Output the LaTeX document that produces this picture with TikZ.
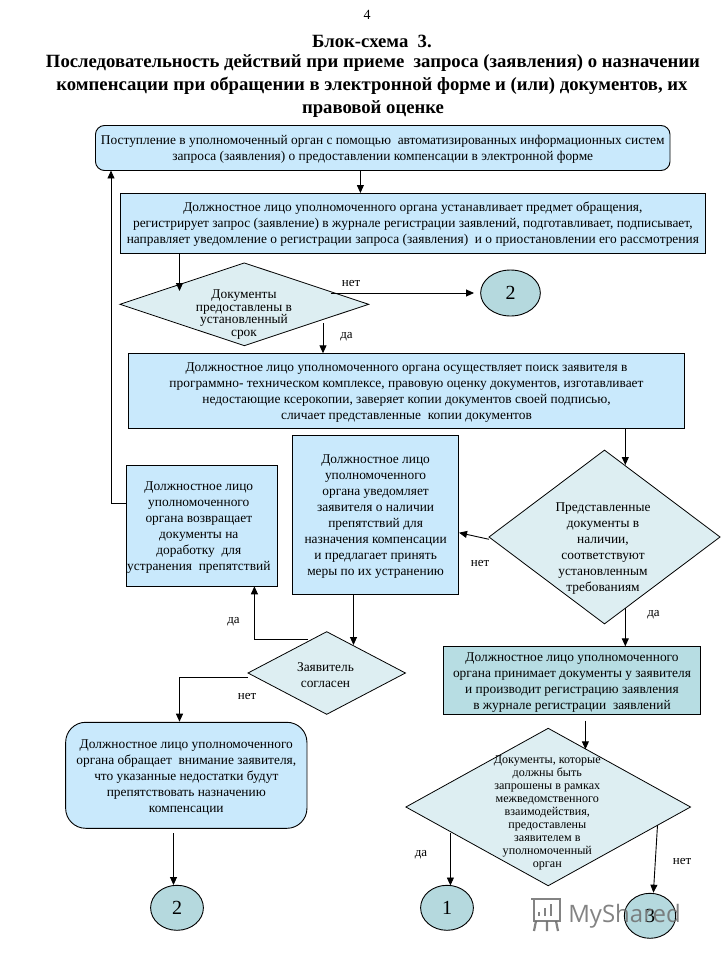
\documentclass[tikz,border=0pt]{standalone}
\usepackage{fontspec}
\setmainfont{Liberation Serif}
\newfontfamily\wmfont{Open Sans}
\usetikzlibrary{shapes.geometric,arrows.meta}
\definecolor{boxblue}{HTML}{C9E9FC}
\definecolor{diafill}{HTML}{DDEEF2}
\definecolor{circfill}{HTML}{B5D9DE}
\definecolor{tealbox}{HTML}{B7DDE3}
\definecolor{wmgray}{HTML}{6E6E6E}
\newcommand{\lowerfirst}{\rule{0pt}{12.5pt}}
\tikzset{
  base/.style={draw=black,line width=0.9pt,inner sep=0pt,outer sep=0pt,align=center,text=black,font=\fontsize{13.4}{16}\selectfont},
  rectbox/.style={base,rectangle,fill=boxblue},
  tealrect/.style={base,rectangle,fill=tealbox},
  roundbox/.style={base,rectangle,rounded corners=#1,fill=boxblue},
  decision/.style={draw=black,line width=0.8pt,diamond,fill=diafill,inner sep=0pt,outer sep=0pt},
  circ/.style={draw=black,line width=0.9pt,ellipse,fill=circfill,inner sep=0pt,outer sep=0pt,font=\fontsize{20}{22}\selectfont},
  arr/.style={draw=black,line width=0.9pt,-{Triangle[length=8pt,width=7pt]}},
  lbl/.style={inner sep=0pt,font=\fontsize{13}{14}\selectfont},
  dtxt/.style={inner sep=0pt,align=center,font=\fontsize{13.4}{12.8}\selectfont},
  btxt/.style={inner sep=0pt,align=center,font=\fontsize{13.4}{16}\selectfont},
  ttl/.style={inner sep=0pt,font=\fontsize{18.7}{20}\selectfont\bfseries}
}
\begin{document}
\begin{tikzpicture}[x=1pt,y=-1pt]
\useasboundingbox (0,0) rectangle (720,960);
\fill[white] (0,0) rectangle (720,960);
% title
\node[inner sep=0pt,font=\fontsize{14}{16}\selectfont] (pg) at (367,15) {4};
\node[ttl] (t0) at (372,41) {Блок-схема~ 3.};
\node[ttl] (t1) at (373,63) {Последовательность действий при приеме~ запроса (заявления) о назначении};
\node[ttl] (t2) at (372,86) {компенсации при обращении в электронной форме и (или) документов, их};
\node[ttl] (t3) at (373,109) {правовой оценке};
% boxes
\node[roundbox=9pt,minimum width=574.5pt,minimum height=45pt] (b1) at (382.75,148) {\lowerfirst Поступление в уполномоченный орган с помощью~ автоматизированных информационных систем\\запроса (заявления) о предоставлении компенсации в электронной форме};
\node[rectbox,minimum width=585.7pt,minimum height=60pt] (b2) at (412.85,223) {\lowerfirst Должностное лицо уполномоченного органа устанавливает предмет обращения,\\регистрирует запрос (заявление) в журнале регистрации заявлений, подготавливает, подписывает,\\направляет уведомление о регистрации запроса (заявления)~ и о приостановлении его рассмотрения};
\node[rectbox,minimum width=556pt,minimum height=75pt] (b3) at (406.5,390.8) {\lowerfirst Должностное лицо уполномоченного органа осуществляет поиск заявителя в\\программно- техническом комплексе, правовую оценку документов, изготавливает\\недостающие ксерокопии, заверяет копии документов своей подписью,\\сличает представленные~ копии документов};
\node[rectbox,minimum width=151pt,minimum height=121pt] (b4) at (201.8,525.8) {};
\node[btxt] (b4t) at (198.8,527.5) {Должностное лицо\\уполномоченного\\органа возвращает\\документы на\\доработку~ для\\устранения~ препятствий};
\node[rectbox,minimum width=166.2pt,minimum height=159pt] (b5) at (375.6,514.8) {\lowerfirst Должностное лицо\\уполномоченного\\органа уведомляет\\заявителя о наличии\\препятствий для\\назначения компенсации\\и предлагает принять\\меры по их устранению};
\node[tealrect,minimum width=257pt,minimum height=68pt] (b6) at (572,680.3) {\lowerfirst Должностное лицо уполномоченного\\органа принимает документы у заявителя\\и производит регистрацию заявления\\в журнале регистрации~ заявлений};
\node[roundbox=20pt,minimum width=241.3pt,minimum height=106pt] (b7) at (186.3,775.3) {\lowerfirst Должностное лицо уполномоченного\\органа обращает~ внимание заявителя,\\что указанные недостатки будут\\препятствовать назначению\\компенсации};
% decisions
\node[decision,minimum width=248.7pt,minimum height=82.7pt] (d1) at (244.3,304.3) {};
\node[dtxt] (d1t) at (244,314.5) {Документы\\предоставлены в\\установленный\\срок};
\node[decision,minimum width=231pt,minimum height=173.7pt] (d2) at (604.5,537) {};
\node[btxt] (d2t) at (603,548.5) {Представленные\\документы в\\наличии,\\соответствуют\\установленным\\требованиям};
\node[decision,minimum width=157.4pt,minimum height=82.6pt] (d3) at (326.7,673) {};
\node[btxt] (d3t) at (325.5,675.5) {Заявитель\\согласен};
\node[decision,minimum width=284.6pt,minimum height=157.4pt] (d4) at (548.2,807) {};
\node[dtxt,font=\fontsize{12.1}{13}\selectfont] (d4t) at (547.3,813.3) {Документы, которые\\должны быть\\запрошены в рамках\\межведомственного\\взаимодействия,\\предоставлены\\заявителем в\\уполномоченный\\орган};
% circles
\node[circ,minimum width=59.7pt,minimum height=46pt] (c1) at (510.5,293) {2};
\node[circ,minimum width=52.8pt,minimum height=45pt] (c2) at (177,907.8) {2};
\node[circ,minimum width=52.8pt,minimum height=45pt] (c3) at (447,907.8) {1};
\node[circ,minimum width=51.4pt,minimum height=45pt] (c4) at (650,915.8) {3};
% connector free ends
\coordinate (p1) at (360.4,171);
\coordinate (p2) at (179.5,253);
\coordinate (q2) at (179.5,291);
\coordinate (p3) at (330.6,293);
\coordinate (q3) at (474,293);
\coordinate (p4) at (323,323.3);
\coordinate (p5) at (625.3,428.3);
\coordinate (q5) at (625.3,465);
\coordinate (p6) at (489,539.3);
\coordinate (q6) at (459,532.7);
\coordinate (p7) at (625.3,608);
\coordinate (p8) at (353.5,594.3);
\coordinate (q8) at (353.5,645);
\coordinate (p9) at (307.6,639.3);
\coordinate (p10) at (248,677.3);
\coordinate (p11) at (173.5,833.3);
\coordinate (p12) at (585.4,720.7);
\coordinate (q12) at (585.4,749.3);
\coordinate (p13) at (450.4,833.3);
\coordinate (p14) at (657.5,825);
\coordinate (q14) at (653.4,892.7);
\coordinate (p15) at (126.3,503);
\coordinate (p16) at (111,503);
% connectors
\draw[arr] (p1) -- (p1 |- b2.north);
\draw[arr] (p2) -- (q2);
\draw[arr] (p3) -- (q3);
\draw[arr] (p4) -- (p4 |- b3.north);
\draw[arr] (p5) -- (q5);
\draw[arr] (p6) -- (q6);
\draw[arr] (p7) -- (p7 |- b6.north);
\draw[arr] (p8) -- (q8);
\draw[arr] (p9) -| (254.4,586.3);
\draw[arr] (p10) -| (179.5,721.7);
\draw[arr] (p11) -- (173.5,885);
\draw[arr] (p12) -- (q12);
\draw[arr] (p13) -- (450.4,885.5);
\draw[arr] (p14) -- (q14);
\draw[arr] (p15) -- (p16) -- (p16 |- b1.south);
% labels
\node[lbl] (l1) at (351,283) {нет};
\node[lbl] (l2) at (346.5,337) {да};
\node[lbl] (l3) at (480,563) {нет};
\node[lbl] (l4) at (653.5,615) {да};
\node[lbl] (l5) at (233.5,621.5) {да};
\node[lbl] (l6) at (247,696.5) {нет};
\node[lbl] (l7) at (421,855) {да};
\node[lbl] (l8) at (682,861.5) {нет};
% watermark
\begin{scope}[draw=wmgray,line width=2.2pt,opacity=.85]
\draw (531,899) -- (560,899) -- (560,921) -- (534,921) -- (534,899);
\draw (536,921) -- (534,931) (547,921) -- (547,931) (556,921) -- (558,931);
\draw (539,916) -- (539,912) (545,916) -- (545,908) (551,916) -- (551,904);
\end{scope}
\node[inner sep=0pt,text=wmgray,opacity=.85,font=\wmfont\fontsize{24}{26}\selectfont] (wm) at (624.5,916) {MyShared};
\end{tikzpicture}
\end{document}
